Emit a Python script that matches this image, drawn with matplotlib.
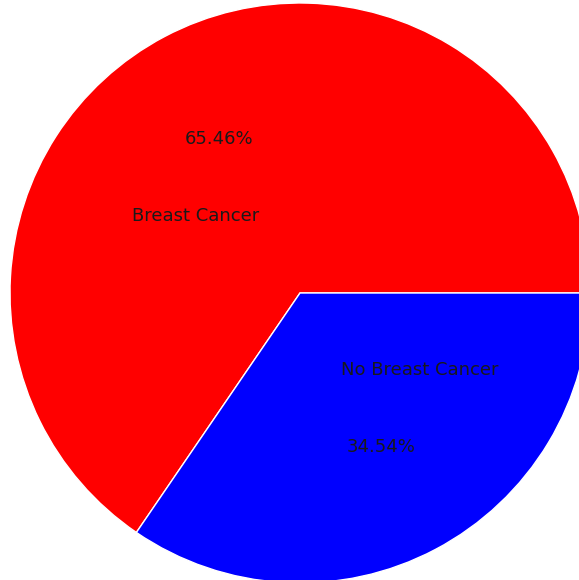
import matplotlib
matplotlib.use("Agg")
from matplotlib import pyplot as plt

# data
labels = ["Breast Cancer", "No Breast Cancer"]
shares = [65.46, 34.54]
colors = ["red", "blue"]

fig = plt.figure(figsize=(5.79, 5.80), dpi=100)
ax = fig.add_axes([0, 0, 1, 1])

wedges, texts, autotexts = ax.pie(
    shares,
    labels=labels,
    colors=colors,
    autopct="%.2f%%",
    labeldistance=0.3,
    pctdistance=0.6,
    wedgeprops={"edgecolor": "white", "linewidth": 1},
    textprops={"fontsize": 13, "color": "#1a1a1a"},
)

# pie is cropped by the figure edges
ax.set_aspect("auto")
ax.set_xlim(-300 / 290, 279 / 290)
ax.set_ylim(-287 / 290, 293 / 290)

fig.savefig("out.png", dpi=100)
